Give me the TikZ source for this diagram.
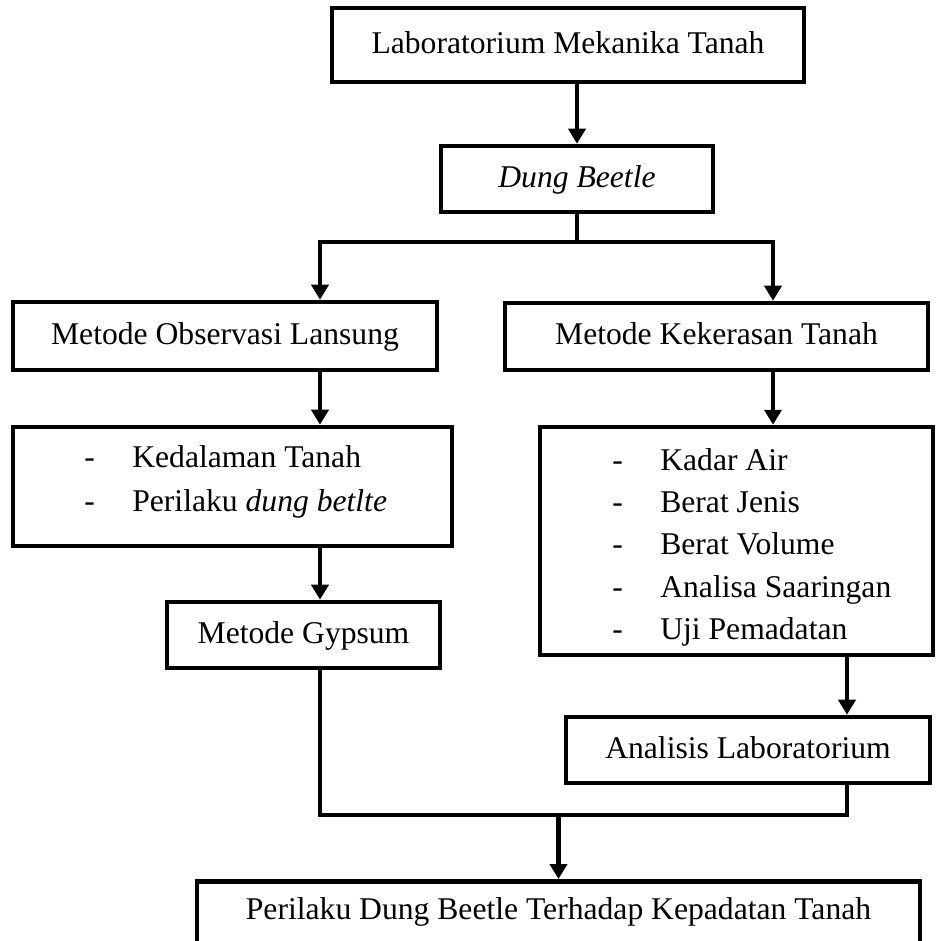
\documentclass[tikz,border=0pt]{standalone}
\usepackage{fontspec}
\setmainfont{Liberation Serif}
\usetikzlibrary{arrows.meta}
\newcommand{\itm}[1]{\hbox{\makebox[0.96cm][l]{-}#1}}

\begin{document}
\begin{tikzpicture}[x=0.02cm, y=-0.02cm,
    every node/.style={font=\fontsize{18}{22}\selectfont},
    box/.style={draw, line width=2.6pt, inner sep=0pt, text height=0.46cm, text depth=0.14cm},
    link/.style={line width=2.3pt},
    arr/.style={link, -{Triangle[length=0.3cm, width=0.34cm]}}]
  \useasboundingbox (0,0) rectangle (936,941);
  % columns of the vertical connectors
  \coordinate (lcol) at (320,0);
  \coordinate (rcol) at (773,0);
  \coordinate (acol) at (847,0);

  % boxes
  \node[box, minimum width=9.44cm, minimum height=1.48cm] (lab) at (568,45) {Laboratorium Mekanika Tanah};
  \node[box, minimum width=5.44cm, minimum height=1.32cm] (dung) at (577,179) {\textit{Dung Beetle}};
  \node[box, minimum width=8.48cm, minimum height=1.36cm] (obs) at (225,336) {Metode Observasi Lansung};
  \node[box, minimum width=8.46cm, minimum height=1.34cm] (keker) at (716.5,336.5) {Metode Kekerasan Tanah};
  \node[box, minimum width=8.78cm, minimum height=2.38cm] (kedal) at (232.5,486.5) {};
  \node[box, minimum width=5.46cm, minimum height=1.32cm] (gyp) at (303.5,635) {Metode Gypsum};
  \node[box, minimum width=7.86cm, minimum height=4.56cm] (uji) at (736.5,541) {};
  \node[box, minimum width=7.28cm, minimum height=1.32cm] (anal) at (748,750) {Analisis Laboratorium};
  % last box runs past the lower edge
  \node[box, anchor=north, minimum width=14.46cm, text height=0.76cm, text depth=0.8cm] (final) at (558.5,879) {Perilaku Dung Beetle Terhadap Kepadatan Tanah};

  % lists
  \node[anchor=base west, inner sep=0pt] (kedallist) at (84,467)
    {\vtop{\baselineskip=0.88cm \itm{Kedalaman Tanah}\itm{Perilaku \textit{dung betlte}}}};
  \node[anchor=base west, inner sep=0pt] (ujilist) at (612,470)
    {\vtop{\baselineskip=0.85cm \itm{Kadar Air}\itm{Berat Jenis}\itm{Berat Volume}\itm{Analisa Saaringan}\itm{Uji Pemadatan}}};

  % connectors
  \draw[arr] (lab.south -| dung.north) -- (dung.north);
  \coordinate (split) at (577,242);
  \draw[link] (dung.south) -- (split);
  \draw[arr] (split) -| (obs.north -| lcol);
  \draw[arr] (split) -| (keker.north -| rcol);
  \draw[arr] (obs.south -| lcol) -- (kedal.north -| lcol);
  \draw[arr] (kedal.south -| lcol) -- (gyp.north -| lcol);
  \draw[arr] (keker.south -| rcol) -- (uji.north -| rcol);
  \draw[arr] (uji.south -| acol) -- (anal.north -| acol);
  \coordinate (merge) at (558.5,815);
  \draw[link] (gyp.south -| lcol) |- (merge) -| (anal.south -| acol);
  \draw[arr] (merge) -- (final.north);
\end{tikzpicture}
\end{document}
